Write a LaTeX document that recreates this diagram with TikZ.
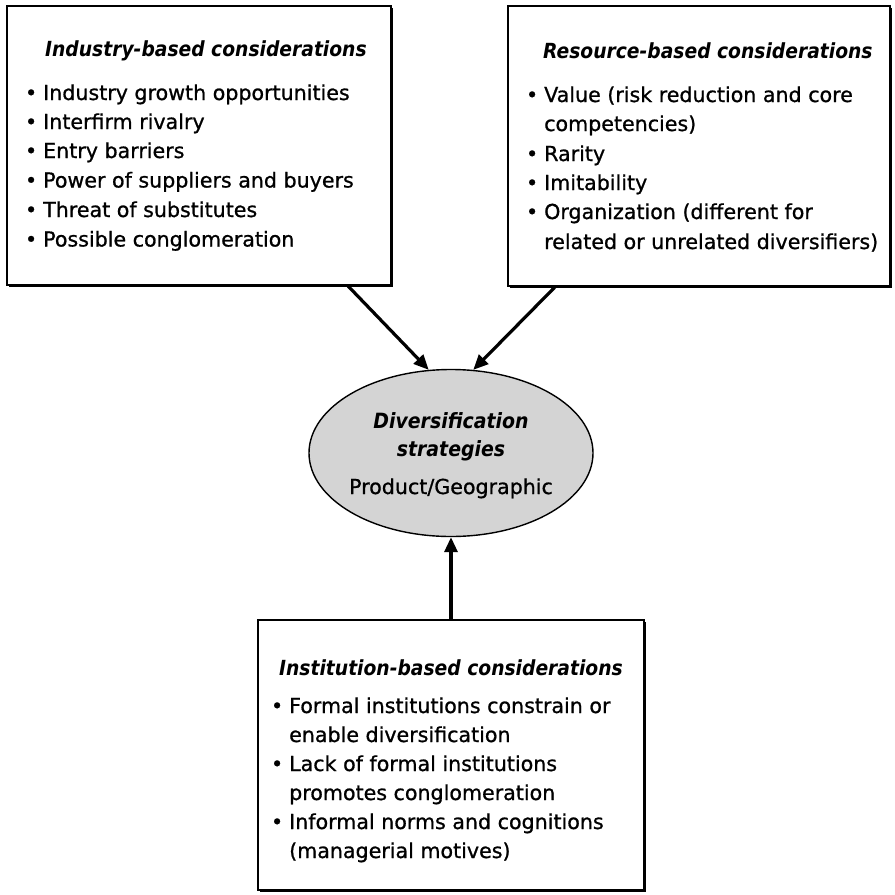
\documentclass[tikz,border=0pt]{standalone}
\usepackage{fontspec}
\setmainfont{DejaVu Sans}[RawFeature={embolden=0.9}]
\newfontfamily\ttlfont{DejaVu Sans Condensed}
\newcommand{\bul}{\llap{•\kern6pt}}
\usetikzlibrary{arrows.meta,shapes.geometric,shadows,calc}
\begin{document}
\begin{tikzpicture}[x=1pt,y=-1pt,
  box/.style={draw=black,line width=1.7pt,fill=white,rectangle,
    drop shadow={shadow xshift=2.4pt,shadow yshift=-2.4pt,fill=black,opacity=1}},
  ttl/.style={anchor=base west,inner sep=0pt,font=\ttlfont\fontsize{20.8}{24}\selectfont\bfseries\itshape},
  itm/.style={anchor=base west,inner sep=0pt,font=\fontsize{20.6}{24}\selectfont},
  ctr/.style={anchor=base,inner sep=0pt,font=\fontsize{20.6}{24}\selectfont},
  arr/.style={line width=3.2pt,-{Triangle[length=15pt,width=13pt]}}]
\useasboundingbox (0,0) rectangle (895,895);
% boxes
\node[box,minimum width=384pt,minimum height=279pt] (ind) at (199,145.5) {};
\node[box,minimum width=382pt,minimum height=280pt] (res) at (699,146) {};
\node[box,minimum width=386pt,minimum height=270pt] (ins) at (451,755) {};
\node[ellipse,draw=black,line width=1.4pt,fill=black!17,minimum width=284pt,minimum height=167pt] (ell) at (451,453) {};
% industry text
\node[ttl] (t1) at (45,56) {Industry-based considerations};
\node[itm] (i1) at (43,100) {\bul Industry growth opportunities};
\node[itm] (i2) at (43,129) {\bul Interfirm rivalry};
\node[itm] (i3) at (43,158) {\bul Entry barriers};
\node[itm] (i4) at (43,187.5) {\bul Power of suppliers and buyers};
\node[itm] (i5) at (43,217) {\bul Threat of substitutes};
\node[itm] (i6) at (43,246.5) {\bul Possible conglomeration};
% resource text
\node[ttl] (t2) at (543,58) {Resource-based considerations};
\node[itm] (r1) at (544,102) {\bul Value (risk reduction and core};
\node[itm] (r1b) at (544,131) {competencies)};
\node[itm] (r2) at (544,161) {\bul Rarity};
\node[itm] (r3) at (544,190) {\bul Imitability};
\node[itm] (r4) at (544,219) {\bul Organization (different for};
\node[itm] (r4b) at (544,249) {related or unrelated diversifiers)};
% ellipse text
\node[ctr,font=\ttlfont\fontsize{21}{24}\selectfont\bfseries\itshape] (e1) at (451,428) {Diversification};
\node[ctr,font=\ttlfont\fontsize{21}{24}\selectfont\bfseries\itshape] (e2) at (451,456) {strategies};
\node[ctr] (e3) at (451,494) {Product/Geographic};
% institution text
\node[ttl] (t3) at (279,675) {Institution-based considerations};
\node[itm] (n1) at (289,713) {\bul Formal institutions constrain or};
\node[itm] (n1b) at (289,742) {enable diversification};
\node[itm] (n2) at (289,771) {\bul Lack of formal institutions};
\node[itm] (n2b) at (289,800) {promotes conglomeration};
\node[itm] (n3) at (289,829) {\bul Informal norms and cognitions};
\node[itm] (n3b) at (289,858) {(managerial motives)};
% arrows
\draw[arr] ($(ind.south west)!0.886!(ind.south east)$) -- (ell.105.5);
\draw[arr] ($(res.south west)!0.125!(res.south east)$) -- (ell.75.5);
\draw[arr] (ins.north) -- (ell.south);
\end{tikzpicture}
\end{document}
